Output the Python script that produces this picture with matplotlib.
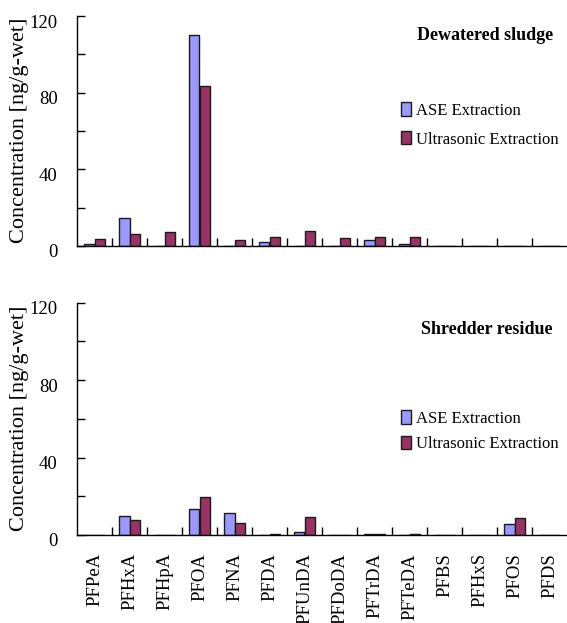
import matplotlib
matplotlib.use("Agg")
import matplotlib.pyplot as plt
import numpy as np
from matplotlib.transforms import ScaledTranslation
from matplotlib.ticker import FixedLocator

plt.rcParams['font.family'] = ['Liberation Serif', 'DejaVu Serif']

compounds = ["PFPeA", "PFHxA", "PFHpA", "PFOA", "PFNA", "PFDA", "PFUnDA",
             "PFDoDA", "PFTrDA", "PFTeDA", "PFBS", "PFHxS", "PFOS", "PFDS"]

sludge_ase = [1.0, 14.6, 0, 110, 0, 2.3, 0, 0, 3.0, 1.0, 0, 0, 0, 0]
sludge_ultra = [3.8, 6.1, 7.1, 83.6, 3.1, 4.5, 7.7, 4.0, 4.5, 4.5, 0, 0, 0, 0]

shred_ase = [0, 10.0, 0, 13.3, 11.2, 0, 1.7, 0, 0.7, 0, 0, 0, 5.7, 0]
shred_ultra = [0, 7.8, 0, 19.5, 6.4, 0.7, 9.5, 0, 0.7, 0.7, 0, 0, 8.6, 0]

ase_color = "#9999FF"
ultra_color = "#993366"

fig = plt.figure(figsize=(5.67, 6.23), dpi=100)
ax1 = fig.add_axes([77/567, (623-246)/623, 1-77/567, 230/623])
ax2 = fig.add_axes([77/567, (623-535)/623, 1-77/567, 232.3/623])

x = np.arange(len(compounds))
w = 0.31

def draw(ax, ase, ultra, title, title_y, leg_y, leg_sp, show_xlabels):
    ax.bar(x - w, ase, width=w, align='edge', color=ase_color,
           edgecolor='#1a1a1a', linewidth=1.0, label='ASE Extraction')
    ax.bar(x, ultra, width=w, align='edge', color=ultra_color,
           edgecolor='#1a1a1a', linewidth=1.0, label='Ultrasonic Extraction')
    ax.set_xlim(-0.5, len(compounds) - 0.5)
    ax.set_ylim(0, 120)
    for s in ['top', 'right']:
        ax.spines[s].set_visible(False)
    ax.spines['left'].set_linewidth(1.0)
    ax.spines['bottom'].set_linewidth(1.0)
    ax.yaxis.set_major_locator(FixedLocator([0, 40, 80, 120]))
    ax.yaxis.set_minor_locator(FixedLocator([20, 60, 100]))
    ax.tick_params(axis='y', which='both', direction='in', length=6, width=1.0)
    ax.tick_params(axis='y', which='major', labelsize=13.5, pad=14)
    ax.set_xticks(x)
    ax.xaxis.set_minor_locator(FixedLocator(np.arange(0.5, len(compounds) - 0.5, 1)))
    ax.tick_params(axis='x', which='minor', direction='in', length=6, width=1.0)
    ax.tick_params(axis='x', which='major', length=0, pad=13)
    if show_xlabels:
        ax.set_xticklabels(compounds, rotation=90, fontsize=13.5)
    else:
        ax.set_xticklabels([])
    off = ScaledTranslation(0, -5/100, fig.dpi_scale_trans)
    for lab in ax.get_yticklabels():
        lab.set_transform(lab.get_transform() + off)
    ax.text(0.971, title_y, title, transform=ax.transAxes, ha='right', va='center',
            fontsize=13, fontweight='bold')
    ax.legend(loc='upper left', bbox_to_anchor=(0.662, leg_y), frameon=False,
              fontsize=12, handlelength=0.55, handleheight=0.85, handletextpad=0.3,
              labelspacing=leg_sp, borderpad=0, borderaxespad=0)

draw(ax1, sludge_ase, sludge_ultra, "Dewatered sludge", 0.917, 0.625, 0.75, False)
draw(ax2, shred_ase, shred_ultra, "Shredder residue", 0.884, 0.537, 0.55, True)

fig.text(20/567, 1 - 130/623, "Concentration [ng/g-wet]", rotation=90,
         ha='center', va='center', fontsize=16)
fig.text(20/567, 1 - 418/623, "Concentration [ng/g-wet]", rotation=90,
         ha='center', va='center', fontsize=16)

fig.savefig("out.png", dpi=100)
